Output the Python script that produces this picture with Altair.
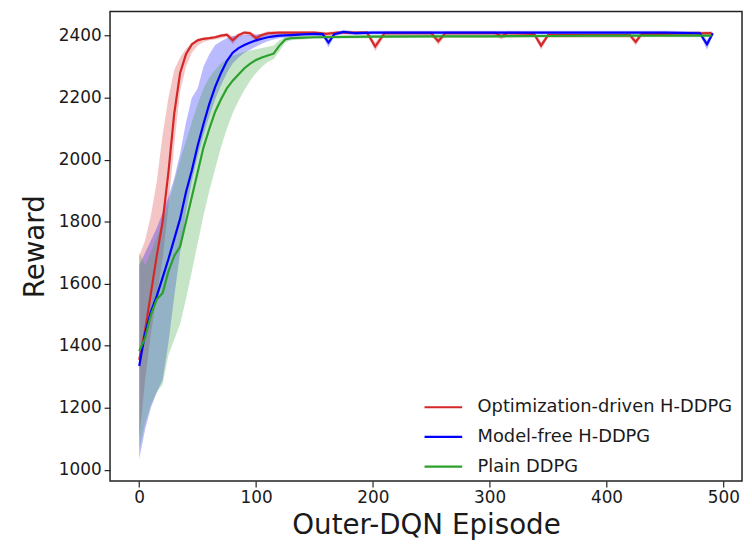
import altair as alt
import pandas as pd

# ---------------- data ----------------
names = ["Optimization-driven H-DDPG", "Model-free H-DDPG", "Plain DDPG"]
colors = ["#d62728", "#0000ff", "#2ca02c"]

rx = [0, 5, 10, 15, 20, 25, 30, 35, 40, 45, 50, 55, 60, 65, 70, 75, 80, 85, 90, 95,
      100, 105, 110, 120, 150, 160, 170, 195, 202, 210, 250, 256, 262, 305, 310, 315,
      338, 344, 350, 420, 425, 430, 490]
ry = [1355, 1450, 1570, 1690, 1800, 1960, 2150, 2280, 2340, 2372, 2385, 2390, 2392, 2395,
      2400, 2403, 2385, 2402, 2410, 2408, 2392, 2402, 2408, 2410, 2410, 2406, 2410, 2410,
      2365, 2408, 2408, 2382, 2408, 2408, 2398, 2408, 2406, 2368, 2402, 2402, 2380, 2405, 2408]
rhi = [1690, 1740, 1820, 1930, 2080, 2200, 2290, 2330, 2358, 2375, 2390, 2394, 2396, 2400,
       2405, 2408, 2398, 2408, 2415, 2414, 2402, 2408, 2414, 2415, 2415, 2412, 2415, 2415,
       2378, 2414, 2414, 2392, 2414, 2414, 2406, 2414, 2412, 2380, 2408, 2408, 2390, 2411, 2414]
rlo = [1100, 1290, 1440, 1560, 1680, 1850, 2050, 2220, 2300, 2345, 2368, 2380, 2385, 2388,
       2392, 2396, 2372, 2394, 2402, 2400, 2380, 2394, 2400, 2404, 2404, 2398, 2404, 2404,
       2350, 2400, 2400, 2370, 2400, 2400, 2388, 2400, 2398, 2355, 2394, 2394, 2368, 2398, 2400]

bx = [0, 5, 10, 15, 20, 25, 30, 35, 40, 45, 50, 55, 60, 65, 70, 75, 80, 85, 90, 95,
      100, 105, 110, 115, 120, 130, 140, 150, 157, 162, 167, 175, 185, 200, 250, 300,
      350, 400, 450, 480, 486, 491]
by = [1335, 1440, 1510, 1560, 1620, 1680, 1745, 1810, 1895, 1965, 2045, 2115, 2180, 2235,
      2280, 2318, 2345, 2360, 2370, 2378, 2385, 2390, 2395, 2398, 2400, 2402, 2404, 2406,
      2405, 2378, 2405, 2412, 2408, 2410, 2410, 2410, 2410, 2410, 2410, 2408, 2372, 2408]
bhi = [1660, 1700, 1740, 1780, 1830, 1880, 1940, 2020, 2120, 2200, 2230, 2300, 2340, 2370,
       2382, 2392, 2398, 2400, 2402, 2403, 2404, 2405, 2406, 2407, 2408, 2409, 2410, 2412,
       2412, 2390, 2412, 2418, 2414, 2416, 2416, 2416, 2416, 2416, 2416, 2414, 2385, 2414]
blo = [1035, 1130, 1200, 1250, 1290, 1410, 1560, 1700, 1830, 1930, 2010, 2080, 2140, 2195,
       2240, 2280, 2310, 2330, 2345, 2355, 2365, 2374, 2382, 2388, 2392, 2396, 2398, 2400,
       2398, 2362, 2398, 2406, 2402, 2404, 2404, 2404, 2404, 2404, 2404, 2402, 2355, 2402]

gx = [0, 5, 10, 15, 20, 25, 30, 35, 40, 45, 50, 55, 60, 65, 70, 75, 80, 85, 90, 95,
      100, 105, 110, 115, 120, 125, 130, 150, 200, 250, 300, 350, 400, 450, 490]
gy = [1383, 1425, 1500, 1550, 1570, 1640, 1690, 1720, 1800, 1880, 1960, 2040, 2100, 2155,
      2195, 2230, 2255, 2275, 2295, 2310, 2322, 2330, 2336, 2342, 2368, 2388, 2392, 2395,
      2397, 2398, 2398, 2399, 2400, 2400, 2400]
ghi = [1700, 1660, 1700, 1750, 1800, 1860, 1930, 2000, 2060, 2120, 2180, 2230, 2265, 2290,
       2310, 2325, 2335, 2342, 2348, 2352, 2356, 2360, 2364, 2368, 2385, 2395, 2398, 2400,
       2402, 2403, 2403, 2404, 2404, 2404, 2404]
glo = [1065, 1150, 1210, 1250, 1275, 1370, 1420, 1470, 1550, 1640, 1730, 1820, 1900, 1970,
       2040, 2100, 2150, 2190, 2225, 2255, 2280, 2300, 2315, 2325, 2350, 2378, 2385, 2390,
       2392, 2393, 2393, 2394, 2395, 2395, 2395]

x_ticks = [0, 100, 200, 300, 400, 500]
y_ticks = [1000, 1200, 1400, 1600, 1800, 2000, 2200, 2400]

# ---------------- table ----------------
frames = []
for name, xs, ys, los, his in [
    (names[0], rx, ry, rlo, rhi),
    (names[1], bx, by, blo, bhi),
    (names[2], gx, gy, glo, ghi),
]:
    frames.append(pd.DataFrame({"series": name, "episode": xs, "reward": ys,
                                "lo": los, "hi": his}))
df = pd.concat(frames, ignore_index=True)

FONT = "DejaVu Sans"
TXT = "#1a1a1a"

xscale = alt.Scale(domain=[-25, 516], nice=False, zero=False)
yscale = alt.Scale(domain=[964, 2478], nice=False, zero=False)
cscale = alt.Scale(domain=names, range=colors)

xaxis = alt.Axis(values=x_ticks, title="Outer-DQN Episode", grid=False, domain=False,
                 format="d",
                 tickSize=6, tickWidth=1.2, tickColor="#222", labelFontSize=17,
                 labelFont=FONT, labelColor=TXT, labelPadding=3,
                 titleFont=FONT, titleFontSize=28, titleFontWeight="normal",
                 titleColor=TXT, titlePadding=6)
yaxis = alt.Axis(values=y_ticks, title="Reward", grid=False, domain=False,
                 format="d",
                 tickSize=6, tickWidth=1.2, tickColor="#222", labelFontSize=17,
                 labelFont=FONT, labelColor=TXT, labelPadding=3,
                 titleFont=FONT, titleFontSize=28, titleFontWeight="normal",
                 titleColor=TXT, titlePadding=9)

legend = alt.Legend(title=None, orient="none", legendX=316, legendY=379,
                    symbolType="stroke", symbolSize=1444, symbolStrokeWidth=2.2,
                    symbolOpacity=1,
                    labelFont=FONT, labelFontSize=18, labelColor=TXT, labelOffset=14,
                    rowPadding=-17, padding=0, labelLimit=400)

base = alt.Chart(df)

bands = base.mark_area(opacity=0.27, interpolate="linear").encode(
    x=alt.X("episode:Q", scale=xscale, axis=xaxis),
    y=alt.Y("lo:Q", scale=yscale, axis=yaxis),
    y2="hi:Q",
    color=alt.Color("series:N", scale=cscale, sort=names, legend=legend),
    detail="series:N",
)

lines = base.mark_line(strokeWidth=2.2).encode(
    x=alt.X("episode:Q", scale=xscale, axis=xaxis),
    y=alt.Y("reward:Q", scale=yscale, axis=yaxis),
    color=alt.Color("series:N", scale=cscale, sort=names, legend=legend),
)

chart = alt.layer(bands, lines).properties(
    width=638, height=474,
    autosize=alt.AutoSizeParams(type="none"),
    padding={"left": 103, "top": 1, "right": 2, "bottom": 58},
).configure_view(stroke="#222", strokeWidth=1.5)

chart.save("out.html", embed_options={"renderer": "svg", "actions": False})
